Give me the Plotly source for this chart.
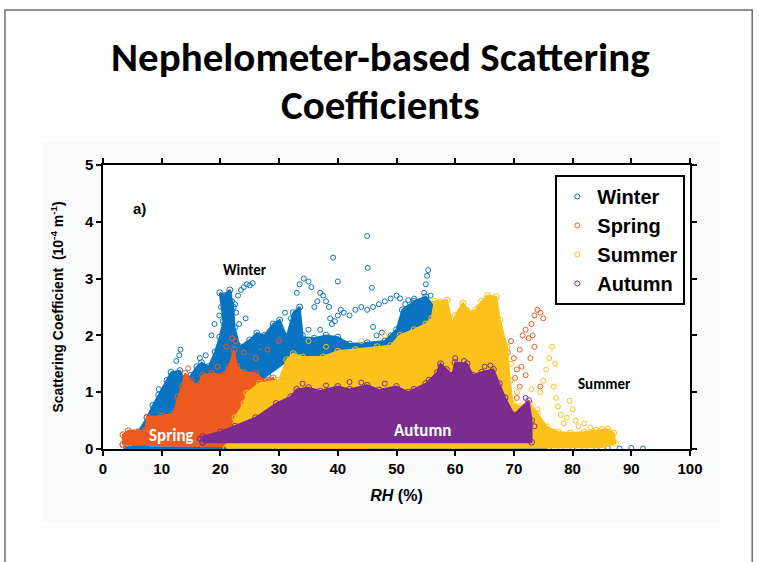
import plotly.graph_objects as go

# ---------------------------------------------------------------------------
# Seasonal nephelometer scattering coefficient vs relative humidity
# Dense cores of each season's cloud are given as outline polygons (RH %, coef),
# sparse fringes as individual observations.
# ---------------------------------------------------------------------------

SEASONS = ["Winter", "Spring", "Summer", "Autumn"]
COLORS = {"Winter": "#0a74c2", "Spring": "#ef5a1f", "Summer": "#fcc21c", "Autumn": "#7b2c8e"}

# --- Winter -----------------------------------------------------------------
winter_core_rh = [5, 6, 7.5, 8.5, 9.5, 10.9, 11.6, 13.1, 14, 15, 16, 16.8, 18, 19.1, 19.9, 20.5,
                  19.9, 20.8, 21.6, 22.2, 22.4, 23.3, 25, 26.2, 27.5, 29, 30.1, 31.3, 32.4, 33.5,
                  34, 32, 28, 20, 12, 6]
winter_core_sc = [0.0, 0.3, 0.55, 0.77, 0.95, 1.21, 1.35, 1.38, 1.2, 1.3, 1.45, 1.52, 1.45, 1.71,
                  1.97, 2.25, 2.75, 2.7, 2.8, 2.5, 2.14, 1.8, 1.92, 2.04, 2.0, 2.2, 2.27, 1.97, 2.4,
                  2.5, 2.0, 1.6, 1.3, 0.6, 0.2, 0.0]
winter_band_rh = [32, 33.5, 36, 38, 40, 42, 45, 48, 50, 51, 53, 55, 56.5, 57.5, 58, 56, 50, 45,
                  40, 35, 32]
winter_band_sc = [2.0, 1.97, 1.95, 2.0, 1.97, 1.85, 1.87, 1.9, 2.1, 2.45, 2.6, 2.68, 2.5, 2.2,
                  1.9, 1.7, 1.6, 1.55, 1.5, 1.55, 1.6]
winter_base_rh = [4, 75, 75, 4]
winter_base_sc = [-0.03, -0.03, 0.03, 0.03]
winter_pts_rh = [19.8, 20.1, 20.5, 21.0, 21.5, 22.0, 22.5, 23.0, 23.5, 24.0, 24.5, 25.0, 25.5,
                 22.7, 23.2, 24.3, 18.5, 19.0, 13.0, 13.2, 12.5, 9.5, 16.5, 17.5,
                 33.0, 33.5, 34.2, 35.0, 35.5, 36.5, 37.0, 37.5, 38.0, 38.5, 38.7, 39.0, 39.5,
                 40.0, 40.5, 41.0, 42.0, 43.0, 44.0, 45.0, 46.0, 47.0, 48.0, 49.0, 50.0, 50.6,
                 51.5, 52.0, 53.0, 54.0, 54.7, 55.0, 55.2, 55.4, 55.8, 56.3,
                 40.0, 39.2, 45.0, 45.1, 45.8, 46.0, 46.6, 36.0, 32.0, 31.0, 35.0, 37.0,
                 42.0, 44.0, 47.5, 49.0,
                 76, 78, 80, 82, 84, 86, 88, 90, 92]
winter_pts_sc = [2.35, 2.5, 2.6, 2.7, 2.75, 2.6, 2.55, 2.7, 2.8, 2.85, 2.9, 2.88, 2.92,
                 2.4, 2.2, 2.3, 2.0, 2.2, 1.65, 1.75, 1.55, 1.05, 1.6, 1.65,
                 2.75, 2.9, 3.0, 2.95, 2.85, 2.6, 2.75, 2.7, 2.6, 2.5, 2.3, 2.2, 2.25,
                 2.35, 2.45, 2.4, 2.35, 2.45, 2.5, 2.45, 2.5, 2.55, 2.6, 2.65, 2.7, 2.65,
                 2.55, 2.62, 2.65, 2.6, 2.75, 2.9, 3.05, 3.15, 2.7, 2.55,
                 2.95, 3.37, 3.75, 3.19, 2.84, 2.15, 2.0, 2.5, 2.3, 2.4, 2.1, 2.1,
                 1.45, 1.4, 2.05, 2.0,
                 0.02, 0.01, 0.02, 0.01, 0.02, 0.02, 0.01, 0.02, 0.01]

# --- Spring -----------------------------------------------------------------
spring_core_rh = [3.4, 3.4, 4.3, 7.2, 7.5, 10, 12, 12.8, 13.5, 14, 15, 16, 17, 18.5, 20.4, 21.5,
                  22.3, 22.8, 24, 26, 27.5, 29, 30, 31, 33, 36, 45, 45]
spring_core_sc = [0.08, 0.25, 0.32, 0.33, 0.56, 0.58, 0.62, 0.92, 1.1, 1.33, 1.2, 1.1, 1.3, 1.33,
                  1.3, 1.45, 1.74, 1.45, 1.35, 1.33, 1.2, 1.25, 1.0, 0.9, 0.5, 0.1, 0.04, 0.0]
spring_pts_rh = [68, 68.5, 69, 69.5, 70, 70.5, 71, 71.5, 72, 72.5, 73, 73.5, 74, 74.5, 75,
                 73.5, 72, 71, 70.5, 69.5, 68.5, 74.5, 71.3, 72.8, 73.2, 70.2,
                 21, 22, 24, 26, 28, 30, 32, 34, 36, 38, 59, 14.5, 19.5, 22.6]
spring_pts_sc = [1.2, 1.5, 1.7, 1.9, 1.6, 1.4, 1.75, 2.0, 2.1, 1.95, 2.2, 2.35, 2.45, 2.4, 2.3,
                 1.8, 1.3, 1.1, 0.9, 0.75, 0.6, 1.1, 1.45, 1.6, 2.0, 1.25,
                 1.8, 1.95, 1.7, 1.6, 1.75, 1.9, 1.5, 1.55, 1.45, 1.35, 1.85, 1.42, 1.45, 1.9]

# --- Summer -----------------------------------------------------------------
summer_core_rh = [21, 22.5, 24, 24.5, 26.7, 30, 31.3, 32.4, 34, 37.5, 40, 43, 46.7, 49, 50.6,
                  53, 55, 56, 56.5, 58.6, 59.5, 60, 61.3, 62.5, 63.5, 64.5, 65.5, 67, 67.6, 68.8,
                  69.3, 69.8, 71, 72.7, 74, 75.6, 77.5, 79.6, 82, 84, 86, 87, 87.3, 85, 60]
summer_core_sc = [0.02, 0.55, 0.8, 0.98, 1.16, 1.21, 1.57, 1.68, 1.62, 1.62, 1.72, 1.75, 1.8,
                  1.82, 2.0, 2.1, 2.2, 2.3, 2.6, 2.62, 2.2, 2.35, 2.57, 2.4, 2.45, 2.6, 2.7, 2.68,
                  2.27, 1.8, 1.2, 0.8, 0.75, 0.8, 0.63, 0.39, 0.3, 0.28, 0.3, 0.33, 0.35, 0.28,
                  0.1, 0.03, 0.02]
summer_pts_rh = [74, 74.5, 75, 75.5, 76, 76.5, 77, 76.8, 77.2, 78, 78.5, 79, 80, 80.5, 81, 82,
                 83, 79.5, 77.5, 85, 35, 44, 48, 57.5, 58, 38, 66, 64, 62, 69.5, 70.5, 73]
summer_pts_sc = [0.7, 1.0, 1.2, 1.4, 1.6, 1.8, 1.5, 1.1, 0.9, 0.6, 0.45, 0.55, 0.7, 0.5, 0.4,
                 0.45, 0.38, 0.85, 0.75, 0.35, 1.9, 1.9, 2.0, 2.6, 2.2, 1.8, 2.55, 2.5, 2.45,
                 1.5, 1.0, 1.05]

# --- Autumn -----------------------------------------------------------------
autumn_core_rh = [17, 17, 20, 22.5, 26, 29.5, 32, 33, 35, 37, 40, 42, 45, 47, 50, 52, 53, 55,
                  57, 57.5, 58.5, 59.5, 60, 62, 63, 64.5, 66.5, 67.5, 68.5, 70, 72.5, 73, 73]
autumn_core_sc = [0.12, 0.22, 0.3, 0.4, 0.55, 0.8, 0.92, 1.05, 1.08, 1.02, 1.1, 1.05, 1.12,
                  1.04, 1.1, 1.0, 1.05, 1.15, 1.35, 1.5, 1.4, 1.3, 1.52, 1.5, 1.3, 1.35, 1.4, 1.15,
                  0.9, 0.6, 0.85, 0.5, 0.12]
autumn_pts_rh = [60, 61.5, 65, 57.5, 72, 73.5, 16.5, 34, 42, 48, 38, 44, 55.5, 66]
autumn_pts_sc = [1.6, 1.55, 1.45, 1.45, 0.9, 0.4, 0.18, 1.15, 1.18, 1.15, 1.12, 1.17, 1.22, 1.47]

CORES = {
    "Winter": [(winter_base_rh, winter_base_sc), (winter_core_rh, winter_core_sc),
               (winter_band_rh, winter_band_sc)],
    "Spring": [(spring_core_rh, spring_core_sc)],
    "Summer": [(summer_core_rh, summer_core_sc)],
    "Autumn": [(autumn_core_rh, autumn_core_sc)],
}
POINTS = {
    "Winter": (winter_pts_rh, winter_pts_sc),
    "Spring": (spring_pts_rh, spring_pts_sc),
    "Summer": (summer_pts_rh, summer_pts_sc),
    "Autumn": (autumn_pts_rh, autumn_pts_sc),
}

X_TICKS = [0, 10, 20, 30, 40, 50, 60, 70, 80, 90, 100]
Y_TICKS = [0, 1, 2, 3, 4, 5]

fig = go.Figure()

for season in SEASONS:
    col = COLORS[season]
    for rh, sc in CORES[season]:
        fig.add_trace(go.Scatter(
            x=rh + [rh[0]], y=sc + [sc[0]], mode="lines+markers", fill="toself",
            fillcolor=col, line=dict(color=col, width=2),
            marker=dict(symbol="circle-open", size=6, color=col, line=dict(width=1, color=col)),
            showlegend=False, hoverinfo="skip", legendgroup=season))
    prh, psc = POINTS[season]
    fig.add_trace(go.Scatter(
        x=prh, y=psc, mode="markers", name=season, legendgroup=season,
        marker=dict(symbol="circle-open", size=5, color=col, line=dict(width=1, color=col))))

AX = dict(showline=True, linecolor="black", linewidth=1.5, mirror="ticks",
          ticks="outside", ticklen=5, tickwidth=1.5, tickcolor="black",
          showgrid=False, zeroline=False,
          tickfont=dict(family="Arial, Liberation Sans", size=15, color="black", weight="bold"))

fig.update_xaxes(range=[0, 100], tickvals=X_TICKS, **AX,
                 title=dict(text="<b><i>RH</i> (%)</b>", standoff=14,
                            font=dict(family="Arial, Liberation Sans", size=16, color="black")))
fig.update_yaxes(range=[0, 5], tickvals=Y_TICKS, **AX,
                 title=dict(text="<b>Scattering Coefficient  (10<sup>-4</sup> m<sup>-1</sup>)</b>",
                            standoff=18,
                            font=dict(family="Arial, Liberation Sans", size=14, color="black")))

LBL = "Carlito, Liberation Sans Narrow, Lato, sans-serif"
notes = [
    dict(x=24.2, y=3.15, text="<b>Winter</b>", color="black", size=15, family=LBL),
    dict(x=85.5, y=1.14, text="<b>Summer</b>", color="black", size=15, family=LBL),
    dict(x=11.6, y=0.23, text="<b>Spring</b>", color="white", size=17, family=LBL),
    dict(x=54.5, y=0.33, text="<b>Autumn</b>", color="white", size=17, family=LBL),
    dict(x=6.3, y=4.24, text="<b>a)</b>", color="black", size=15, family="Arial, Liberation Sans"),
]
for n in notes:
    fig.add_annotation(x=n["x"], y=n["y"], xref="x", yref="y", text=n["text"], showarrow=False,
                       font=dict(family=n["family"], size=n["size"], color=n["color"]))

# slide title, two lines
for text, ypos in [("<b>Nephelometer-based Scattering</b>", 1.382), ("<b>Coefficients</b>", 1.212)]:
    fig.add_annotation(xref="paper", yref="paper", x=0.472, y=ypos, yanchor="middle",
                       text=text, showarrow=False,
                       font=dict(family=LBL, size=41, color="black"))

# slide frame and chart panel
fig.add_shape(type="rect", xref="paper", yref="paper", x0=-0.102, x1=1.051, y0=-0.257, y1=1.081,
              fillcolor="#f9fafa", line=dict(width=0), layer="below")
fig.add_shape(type="rect", xref="paper", yref="paper", x0=0, x1=1, y0=0, y1=1,
              fillcolor="white", line=dict(width=0), layer="below")
fig.add_shape(type="path", xref="paper", yref="paper",
              path="M -0.167,-0.5 L -0.167,1.546 L 1.106,1.546 L 1.106,-0.5",
              line=dict(color="#6e6e6e", width=1.5), layer="above")

fig.update_layout(
    width=759, height=562,
    margin=dict(l=103, r=69, t=165, b=113),
    paper_bgcolor="white", plot_bgcolor="white",
    showlegend=True,
    legend=dict(x=0.992, y=0.965, xanchor="right", yanchor="top",
                bgcolor="white", bordercolor="black", borderwidth=2,
                font=dict(family="Arial, Liberation Sans", size=20, color="black", weight="bold"),
                itemwidth=30, tracegroupgap=0),
)

fig.write_html("out.html")
